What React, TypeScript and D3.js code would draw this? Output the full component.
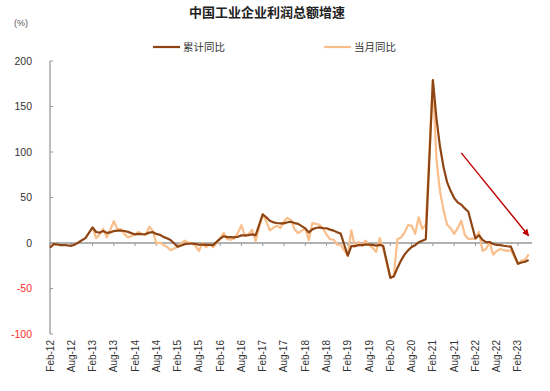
import React from "react";
import * as d3 from "d3";

const title = "中国工业企业利润总额增速";
const unitLabel = "(%)";
const seriesNames = ["累计同比", "当月同比"];
const yTicks = [200, 150, 100, 50, 0, -50, -100];
const xTickLabels = [
  "Feb-12", "Aug-12", "Feb-13", "Aug-13", "Feb-14", "Aug-14", "Feb-15", "Aug-15",
  "Feb-16", "Aug-16", "Feb-17", "Aug-17", "Feb-18", "Aug-18", "Feb-19", "Aug-19",
  "Feb-20", "Aug-20", "Feb-21", "Aug-21", "Feb-22", "Aug-22", "Feb-23",
];
const monthNames = ["Jan", "Feb", "Mar", "Apr", "May", "Jun", "Jul", "Aug", "Sep", "Oct", "Nov", "Dec"];

// 累计同比, Feb..Dec each year (Jan-Feb reported together), Feb-12 .. May-23
const cumulative = [
  -5.2, -1.3, -1.6, -2.4, -2.2, -2.7, -3.1, -1.8, 0.5, 3.0, 5.3,
  17.2, 12.1, 11.4, 13.2, 11.1, 11.6, 13.1, 13.5, 13.7, 13.2, 12.2,
  9.4, 10.1, 9.6, 9.8, 11.4, 11.9, 10.0, 9.0, 6.7, 5.3, 3.3,
  -4.2, -2.7, -1.3, -0.8, -0.7, -1.0, -1.9, -1.7, -2.0, -1.9, -2.3,
  4.8, 7.4, 6.5, 6.4, 6.2, 6.9, 8.4, 8.4, 8.6, 9.4, 8.5,
  31.5, 28.3, 24.4, 22.7, 22.0, 21.6, 21.6, 22.8, 23.3, 21.9, 21.0,
  16.1, 11.6, 15.0, 16.5, 17.2, 16.2, 16.2, 14.7, 13.6, 11.8, 10.3,
  -14.0, -3.3, -3.4, -2.3, -2.4, -1.7, -1.7, -2.1, -2.9, -2.1, -3.3,
  -38.3, -36.7, -27.4, -19.3, -12.8, -8.1, -4.4, -2.4, 0.7, 2.4, 4.1,
  178.9, 137.3, 106.0, 83.4, 66.9, 57.3, 49.5, 44.7, 42.2, 38.0, 34.3,
  5.0, 8.5, 3.5, 1.0, 1.0, -1.1, -2.1, -2.3, -3.0, -3.6, -4.0,
  -22.9, -21.4, -20.6, -18.8,
];
const cumulativeStart = "Feb-12";

// 当月同比, Feb..Dec each year, Feb-13 .. May-23
const monthly = [
  17.2, 5.3, 9.3, 15.5, 6.3, 14.4, 24.0, 15.5, 15.1, 9.7, 6.2,
  9.4, 12.1, 9.6, 8.9, 17.9, 13.5, -0.6, 0.4, -2.1, -4.2, -8.0,
  -4.2, -0.4, 2.6, 0.6, -0.3, -2.9, -8.8, -0.1, -4.6, -1.4, -4.7,
  4.8, 11.1, 4.2, 3.7, 5.1, 11.0, 19.5, 7.7, 9.8, 14.5, 2.3,
  31.5, 23.8, 14.0, 16.7, 19.1, 16.5, 24.0, 27.7, 25.1, 14.9, 10.8,
  16.1, 3.1, 21.9, 21.1, 20.0, 16.2, 9.2, 4.1, 3.6, -1.8, -1.9,
  -14.0, 13.9, -3.7, 1.1, -3.1, 2.6, -2.0, -5.3, -9.9, 5.4, -6.3,
  -38.3, -34.9, 4.2, 6.0, 11.5, 19.6, 19.1, 10.1, 28.2, 15.5, 20.1,
  178.9, 92.3, 57.0, 36.4, 20.0, 16.4, 10.1, 16.3, 24.6, 9.0, 4.2,
  5.0, 12.2, -8.5, -6.5, 0.8, -12.8, -8.8, -6.6, -7.9, -8.7, -8.0,
  -22.9, -19.2, -18.2, -12.6,
];
const monthlyStart = "Feb-13";

// trend arrow annotation (from Oct-21 @ ~100 to May-23 @ ~8)
const arrowFrom = { label: "Oct-21", value: 99 };
const arrowTo = { label: "May-23", value: 8 };

const BROWN = "#8E4513";
const LIGHT = "#F9BE8A";
const FONT = "'Liberation Sans', Arial, sans-serif";
const CJK = "'Noto Sans CJK SC', 'Noto Sans', sans-serif";

// month index counted from Feb-12
function labelIndex(label: string): number {
  const [m, y] = label.split("-");
  return (2000 + +y - 2012) * 12 + monthNames.indexOf(m) - 1;
}

// expand a series (Feb..Dec per year, no Jan) into indexed points
function expand(values: number[], start: string) {
  const pts: { i: number; v: number }[] = [];
  let idx = labelIndex(start);
  for (const v of values) {
    pts.push({ i: idx, v });
    idx += 1;
    if (((idx % 12) + 12) % 12 === 11) idx += 1; // skip January
  }
  return pts;
}

export default function App() {
  const W = 550;
  const H = 391;
  const x = d3.scaleLinear().domain([0, 135]).range([50, 528.6]);
  const y = d3.scaleLinear().domain([-100, 200]).range([334, 61]);

  const cumPts = expand(cumulative, cumulativeStart);
  const monPts = expand(monthly, monthlyStart);

  const line = d3
    .line<{ i: number; v: number }>()
    .x((d) => x(d.i))
    .y((d) => y(d.v));

  const ax1 = x(labelIndex(arrowFrom.label));
  const ay1 = y(arrowFrom.value);
  const ax2 = x(labelIndex(arrowTo.label));
  const ay2 = y(arrowTo.value);

  return (
    <svg
      width={W}
      height={H}
      style={{ position: "absolute", left: 0, top: 0, background: "#fff" }}
    >
      <defs>
        <marker
          id="arrowHead"
          viewBox="0 0 10 10"
          refX="9"
          refY="5"
          markerWidth="7"
          markerHeight="7"
          orient="auto"
          markerUnits="userSpaceOnUse"
        >
          <path d="M0,0 L10,5 L0,10 z" fill="#C00000" />
        </marker>
      </defs>

      <text
        x={267}
        y={17}
        textAnchor="middle"
        fontFamily={CJK}
        fontWeight="bold"
        fontSize={13}
        fill="#222"
      >
        {title}
      </text>

      <text x={14} y={26} fontFamily={FONT} fontSize={9} fill="#555">
        {unitLabel}
      </text>

      {/* legend */}
      <line x1={153} x2={180} y1={47} y2={47} stroke={BROWN} strokeWidth={2.2} />
      <text x={183} y={51} fontFamily={CJK} fontSize={10.5} fill="#333">
        {seriesNames[0]}
      </text>
      <line x1={324} x2={351} y1={47} y2={47} stroke={LIGHT} strokeWidth={2.2} />
      <text x={354} y={51} fontFamily={CJK} fontSize={10.5} fill="#333">
        {seriesNames[1]}
      </text>

      {/* y axis */}
      <line x1={x(0)} x2={x(0)} y1={y(200)} y2={y(-100)} stroke="#999" strokeWidth={1.3} />
      {yTicks.map((t) => (
        <g key={t}>
          <line x1={x(0)} x2={x(0) + 3} y1={y(t)} y2={y(t)} stroke="#999" strokeWidth={1} />
          <text
            x={32}
            y={y(t)}
            dy="0.35em"
            textAnchor="end"
            fontFamily={FONT}
            fontSize={10.5}
            fill={t < 0 ? "#FF2D2D" : "#333"}
          >
            {t}
          </text>
        </g>
      ))}

      {/* x axis at zero */}
      <line x1={x(0)} x2={532} y1={y(0)} y2={y(0)} stroke="#999" strokeWidth={1.3} />
      {xTickLabels.map((l) => {
        const xx = x(labelIndex(l));
        return (
          <g key={l}>
            <line x1={xx} x2={xx} y1={y(0)} y2={y(0) + 3} stroke="#999" strokeWidth={1} />
            <text
              transform={`translate(${xx + 3.5},340) rotate(-90)`}
              textAnchor="end"
              fontFamily={FONT}
              fontSize={10}
              fill="#333"
            >
              {l}
            </text>
          </g>
        );
      })}

      {/* series */}
      <path d={line(monPts) || ""} fill="none" stroke={LIGHT} strokeWidth={2.2} strokeLinejoin="round" />
      <path d={line(cumPts) || ""} fill="none" stroke={BROWN} strokeWidth={2.2} strokeLinejoin="round" />

      {/* arrow */}
      <line
        x1={ax1}
        y1={ay1}
        x2={ax2}
        y2={ay2}
        stroke="#C00000"
        strokeWidth={1.4}
        markerEnd="url(#arrowHead)"
      />
    </svg>
  );
}
